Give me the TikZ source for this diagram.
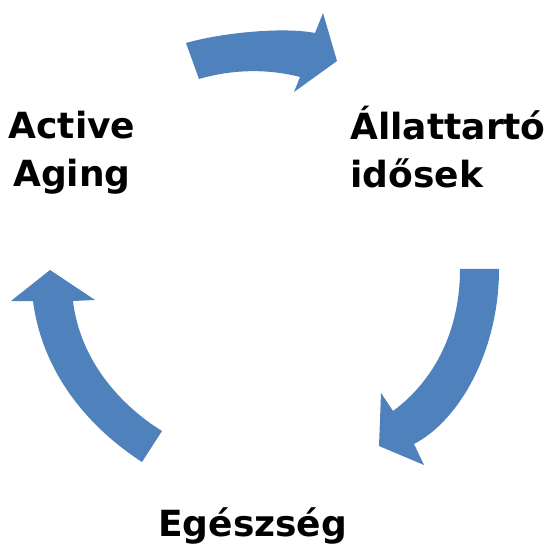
\documentclass[tikz,border=0pt]{standalone}
\usepackage{fontspec}
\setmainfont{DejaVu Sans}
\usetikzlibrary{positioning}

\definecolor{cycleblue}{RGB}{79,129,189}

\tikzset{
    label text/.style={font=\fontsize{20.5}{27.8}\selectfont\bfseries, inner sep=0pt},
    cycle arrow/.style={fill=cycleblue, draw=none}
}

\begin{document}
\begin{tikzpicture}[x=0.02cm, y=-0.02cm]
    \useasboundingbox (0,0) rectangle (553,543);

    % Labels
    \node[label text, align=center, anchor=base] (active) at (72,187) {Active\\Aging};
    \node[label text, align=left, anchor=base west] (allat) at (350,188) {Állattartó\\idősek};
    \node[label text, anchor=base west] (egesz) at (158,536) {Egészség};

    % Top arrow
    \fill[cycle arrow] (186,43) .. controls (225,32) and (285,27) .. (315,33)
        -- (323,13) -- (337,61) -- (294,92) -- (300,77)
        .. controls (265,68) and (230,70) .. (199,79) -- cycle;

    % Right arrow
    \fill[cycle arrow] (499,269) .. controls (499,350) and (460,420) .. (414,444)
        -- (424,465) -- (379,446) -- (381,393) -- (393,411)
        .. controls (435,380) and (460,330) .. (460,269) -- cycle;

    % Left arrow
    \fill[cycle arrow] (142,462) .. controls (85,425) and (42,370) .. (33,301)
        -- (11,301) -- (50,270) -- (95,300) -- (73,301)
        .. controls (80,360) and (120,405) .. (162,431) -- cycle;
\end{tikzpicture}
\end{document}
